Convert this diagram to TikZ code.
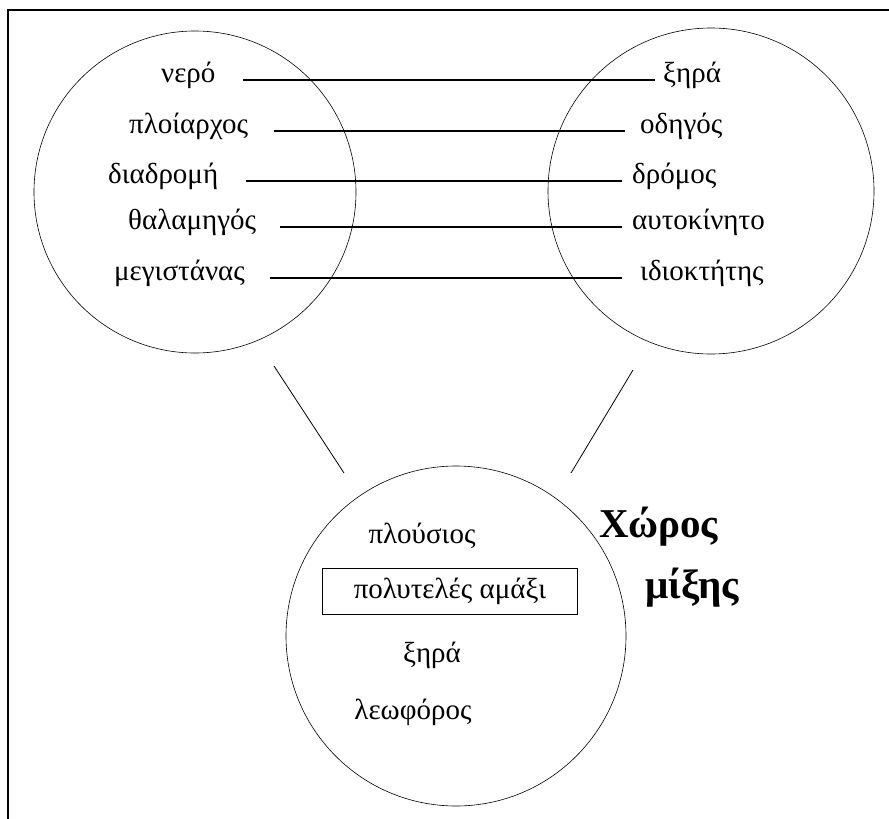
\documentclass[tikz,border=0pt]{standalone}
\usepackage{fontspec}
\setmainfont{Liberation Serif}
\begin{document}
\begin{tikzpicture}[x=1pt,y=-1pt,
  word/.style={inner sep=0pt, font=\fontsize{29}{34}\selectfont},
  ring/.style={draw, circle, line width=0.6pt, inner sep=0pt},
  link/.style={draw, line width=1.3pt},
  title/.style={inner sep=0pt, font=\fontsize{41}{48}\selectfont\bfseries}]
\useasboundingbox (0,0) rectangle (889,819);
% frame (top and left edges)
\draw[line width=1.6pt] (8,819) -- (8,10) -- (889,10);

% the three circles
\node[ring, minimum size=322pt] (L) at (195,192) {};
\node[ring, minimum size=326pt] (R) at (711,191) {};
\node[ring, minimum size=340pt] (M) at (456,636) {};

% left words
\node[word, anchor=mid west] (l1) at (161,80) {νερό};
\node[word, anchor=mid west] (l2) at (129,131) {πλοίαρχος};
\node[word, anchor=mid west] (l3) at (108,181) {διαδρομή};
\node[word, anchor=mid west] (l4) at (128,227) {θαλαμηγός};
\node[word, anchor=mid west] (l5) at (114,278) {μεγιστάνας};

% right words
\node[word, anchor=mid west] (r1) at (663,80) {ξηρά};
\node[word, anchor=mid west] (r2) at (640,131) {οδηγός};
\node[word, anchor=mid west] (r3) at (632,181) {δρόμος};
\node[word, anchor=mid west] (r4) at (632,227) {αυτοκίνητο};
\node[word, anchor=mid west] (r5) at (640,278) {ιδιοκτήτης};

% line ends
\coordinate (a1) at (243,80);  \coordinate (b1) at (655,80);
\coordinate (a2) at (274,131); \coordinate (b2) at (625,131);
\coordinate (a3) at (246,181); \coordinate (b3) at (622,181);
\coordinate (a4) at (280,227); \coordinate (b4) at (622,227);
\coordinate (a5) at (270,278); \coordinate (b5) at (622,278);
\foreach \i in {1,...,5} { \draw[link] (a\i) -- (b\i); }

% connectors to the mixing space
\coordinate (p1) at (274,366); \coordinate (q1) at (344,473);
\coordinate (p2) at (633,370); \coordinate (q2) at (571,473);
\draw[line width=0.8pt] (p1) -- (q1);
\draw[line width=0.8pt] (p2) -- (q2);

% mixing space
\node[word] (m1) at (422,536) {πλούσιος};
\node[word, draw, line width=0.8pt, minimum width=255pt, minimum height=46pt] (m2) at (450,591) {πολυτελές αμάξι};
\node[word] (m3) at (432,655) {ξηρά};
\node[word] (m4) at (413,712) {λεωφόρος};

\node[title] (t1) at (659,527) {Χώρος};
\node[title] (t2) at (692,588) {μίξης};
\end{tikzpicture}
\end{document}
